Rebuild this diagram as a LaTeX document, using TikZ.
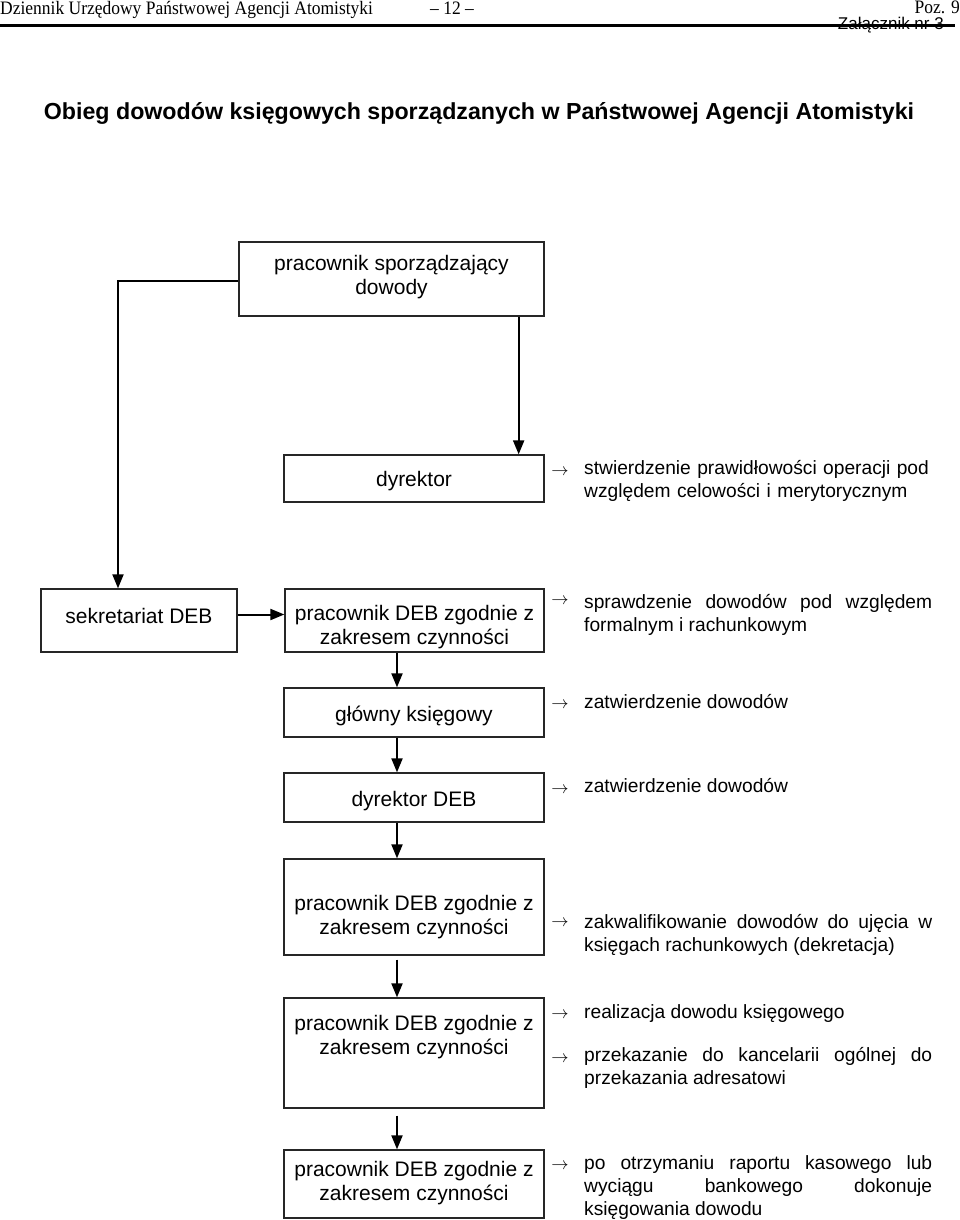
\documentclass[tikz,border=0pt]{standalone}
\usepackage{fontspec}
\usepackage{tikz}
\usetikzlibrary{arrows.meta}
\newfontfamily\arialfont{Liberation Sans}
\newfontfamily\timesfont[FakeStretch=0.92]{Liberation Serif}
\newcommand\headfont{\timesfont\fontsize{19}{22}\selectfont}
\newcommand\titlefont{\arialfont\bfseries\fontsize{23.2}{26}\selectfont}
\newcommand\boxfont{\arialfont\fontsize{21}{24}\selectfont}
\newcommand\notefont{\arialfont\fontsize{19.2}{23}\selectfont\hyphenpenalty=10000\emergencystretch=2em}
\tikzset{
  flowbox/.style={draw=black!85, line width=1.3pt, minimum width=260pt, inner sep=0pt},
  boxtext/.style={align=center, font=\boxfont, inner sep=0pt},
  flowarrow/.style={line width=2pt, -{Triangle[width=11pt,length=14pt]}},
  notetext/.style={anchor=north west, text width=348pt, align=justify, font=\notefont, inner sep=0pt},
  noteleft/.style={notetext, align=left},
  notemark/.style={inner sep=0pt, font=\fontsize{16.5}{16.5}\selectfont}
}
\begin{document}
\begin{tikzpicture}[x=1pt,y=-1pt]
\useasboundingbox (0,0) rectangle (960,1220);
% header
\path (0,15)   node[anchor=base west, inner sep=0pt, font=\headfont] (hdr)  {Dziennik Urzędowy Państwowej Agencji Atomistyki};
\path (452,15) node[anchor=base, inner sep=0pt, font=\headfont]      (page) {– 12 –};
\path (960,14) node[anchor=base east, inner sep=0pt, font=\headfont] (poz)  {Poz. 9};
\path (944,30) node[anchor=base east, inner sep=0pt, font=\arialfont\fontsize{17}{18}\selectfont] (annex) {Załącznik nr 3};
\draw [line width=3pt] (0,26) -- (955,26);
\path (479,113) node[inner sep=0pt, font=\titlefont] (title) {Obieg dowodów księgowych sporządzanych w Państwowej Agencji Atomistyki};
% boxes
\path (391.5,279) node[flowbox, minimum width=305pt, minimum height=74pt] (author) {};
\path (414,478.5) node[flowbox, minimum height=47pt] (director) {};
\path (139,620.5) node[flowbox, minimum width=196pt, minimum height=63pt] (secretariat) {};
\path (414.5,620.5) node[flowbox, minimum width=259pt, minimum height=63pt] (clerka) {};
\path (414,712.5) node[flowbox, minimum height=49pt] (chief) {};
\path (414,797.5) node[flowbox, minimum height=49pt] (debdir) {};
\path (414,907)   node[flowbox, minimum height=96pt] (clerkb) {};
\path (414,1053)  node[flowbox, minimum height=110pt] (clerkc) {};
\path (414,1184)  node[flowbox, minimum height=68pt] (clerkd) {};
% box labels
\path (391.5,277) node[boxtext] (authortext)      {pracownik sporządzający\\dowody};
\path (414,481)   node[boxtext] (directortext)    {dyrektor};
\path (139,616)   node[boxtext] (secretariattext) {sekretariat DEB};
\path (414.5,627) node[boxtext] (clerkatext)      {pracownik DEB zgodnie z\\zakresem czynności};
\path (414,716)   node[boxtext] (chieftext)       {główny księgowy};
\path (414,801)   node[boxtext] (debdirtext)      {dyrektor DEB};
\path (414,917)   node[boxtext] (clerkbtext)      {pracownik DEB zgodnie z\\zakresem czynności};
\path (414,1037)  node[boxtext] (clerkctext)      {pracownik DEB zgodnie z\\zakresem czynności};
\path (414,1183)  node[boxtext] (clerkdtext)      {pracownik DEB zgodnie z\\zakresem czynności};
% connectors
\draw [flowarrow] ([yshift=-2pt]author.west) -| ([xshift=-21pt]secretariat.north);
\draw [flowarrow] ([xshift=-26pt]author.south east) -- ([xshift=-26pt]director.north east);
\draw [flowarrow] ([yshift=6pt]secretariat.east) -- ([yshift=6pt]clerka.west);
\draw [flowarrow] ([xshift=-17.5pt]clerka.south) -- ([xshift=-17pt]chief.north);
\draw [flowarrow] ([xshift=-17pt]chief.south) -- ([xshift=-17pt]debdir.north);
\draw [flowarrow] ([xshift=-17pt]debdir.south) -- ([xshift=-17pt]clerkb.north);
\draw [flowarrow,shorten <=4pt] ([xshift=-17pt]clerkb.south) -- ([xshift=-17pt]clerkc.north);
\draw [flowarrow,shorten <=7pt] ([xshift=-17pt]clerkc.south) -- ([xshift=-17pt]clerkd.north);
% notes
\path (560,472)  node[notemark] (ma) {$\rightarrow$};
\path (584,460)  node[noteleft] (notea) {stwierdzenie prawidłowości operacji pod\\względem celowości i merytorycznym};
\path (560,601)  node[notemark] (mb) {$\rightarrow$};
\path (584,594)  node[notetext] (noteb) {sprawdzenie dowodów pod względem\linebreak formalnym i rachunkowym};
\path (560,705)  node[notemark] (mc) {$\rightarrow$};
\path (584,694)  node[notetext] (notec) {zatwierdzenie dowodów};
\path (560,790)  node[notemark] (md) {$\rightarrow$};
\path (584,778)  node[notetext] (noted) {zatwierdzenie dowodów};
\path (560,923)  node[notemark] (me) {$\rightarrow$};
\path (584,914)  node[notetext] (notee) {zakwalifikowanie dowodów do ujęcia w\linebreak księgach rachunkowych (dekretacja)};
\path (560,1015) node[notemark] (mf) {$\rightarrow$};
\path (584,1004) node[notetext] (notef) {realizacja dowodu księgowego};
\path (560,1059) node[notemark] (mg) {$\rightarrow$};
\path (584,1047) node[notetext] (noteg) {przekazanie do kancelarii ogólnej do\linebreak przekazania adresatowi};
\path (560,1166) node[notemark] (mh) {$\rightarrow$};
\path (584,1155) node[notetext] (noteh) {po otrzymaniu raportu kasowego lub\linebreak wyciągu bankowego dokonuje\linebreak księgowania dowodu};
\end{tikzpicture}
\end{document}
